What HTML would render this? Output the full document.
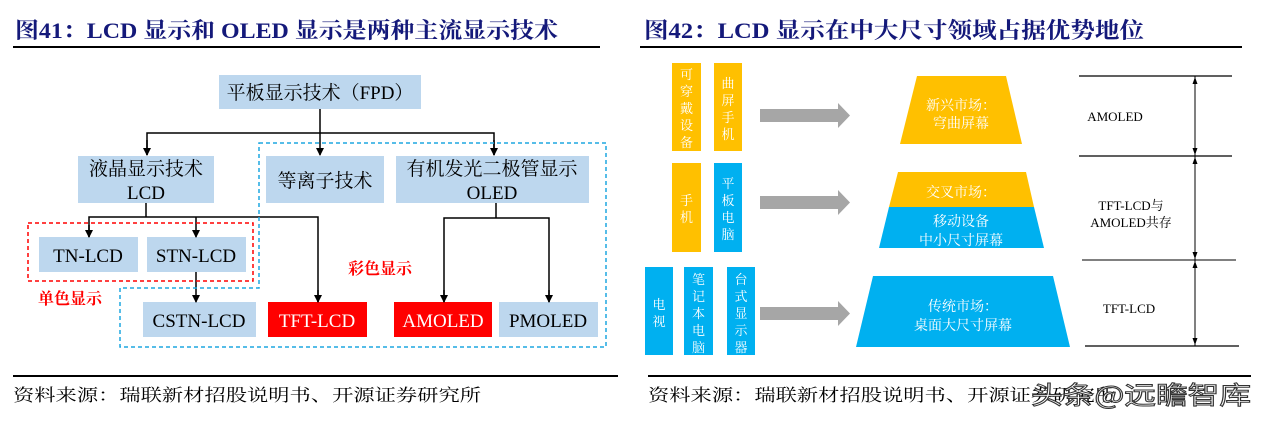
<!DOCTYPE html>
<html><head><meta charset="utf-8"><style>
html,body{margin:0;padding:0;background:#fff;}
svg{display:block;}
.t{font-family:"Liberation Serif","Noto Serif CJK SC",serif;}
</style></head><body>
<svg width="1263" height="421" viewBox="0 0 1263 421" xmlns="http://www.w3.org/2000/svg">
<defs>
<marker id="ar" markerWidth="8" markerHeight="8" refX="7" refY="4" orient="auto" markerUnits="userSpaceOnUse">
<path d="M0,0 L8,4 L0,8 Z" fill="#000"/></marker>
</defs>
<!-- titles -->
<text class="t" x="15" y="38" font-size="22" font-weight="bold" fill="#14197A" textLength="543" lengthAdjust="spacingAndGlyphs">图41：LCD 显示和 OLED 显示是两种主流显示技术</text>
<line x1="13" y1="47" x2="600" y2="47" stroke="#000" stroke-width="2"/>
<text class="t" x="644" y="38" font-size="22" font-weight="bold" fill="#14197A" textLength="500" lengthAdjust="spacingAndGlyphs">图42：LCD 显示在中大尺寸领域占据优势地位</text>
<line x1="640" y1="47" x2="1242" y2="47" stroke="#000" stroke-width="2"/>

<!-- LEFT DIAGRAM -->
<g class="t" font-size="19" text-anchor="middle">
<rect x="219" y="75" width="202" height="34" fill="#BDD7EE"/>
<text x="320" y="99">平板显示技术（FPD）</text>
<rect x="78" y="156" width="136" height="47" fill="#BDD7EE"/>
<text x="146" y="175">液晶显示技术</text>
<text x="146" y="199">LCD</text>
<rect x="266" y="156" width="118" height="47" fill="#BDD7EE"/>
<text x="325" y="187">等离子技术</text>
<rect x="396" y="156" width="193" height="47" fill="#BDD7EE"/>
<text x="492" y="175">有机发光二极管显示</text>
<text x="492" y="199">OLED</text>
<rect x="39" y="237" width="99" height="35" fill="#BDD7EE"/>
<text x="88" y="262">TN-LCD</text>
<rect x="147" y="237" width="99" height="35" fill="#BDD7EE"/>
<text x="196" y="262">STN-LCD</text>
<rect x="143" y="302" width="113" height="35" fill="#BDD7EE"/>
<text x="199" y="327">CSTN-LCD</text>
<rect x="268" y="302" width="99" height="35" fill="#FF0000"/>
<text x="317" y="327" fill="#fff">TFT-LCD</text>
<rect x="394" y="302" width="98" height="35" fill="#FF0000"/>
<text x="443" y="327" fill="#fff">AMOLED</text>
<rect x="499" y="302" width="99" height="35" fill="#BDD7EE"/>
<text x="548" y="327" fill="#000">PMOLED</text>
</g>
<g stroke="#000" stroke-width="1.5" fill="none">
<line x1="320" y1="109" x2="320" y2="155" marker-end="url(#ar)"/>
<polyline points="147,155 147,133 494,133 494,155" />
<line x1="147" y1="140" x2="147" y2="155" marker-end="url(#ar)"/>
<line x1="494" y1="140" x2="494" y2="155" marker-end="url(#ar)"/>
<line x1="146" y1="203" x2="146" y2="217"/>
<polyline points="89,237 89,217 318,217 318,302"/>
<line x1="89" y1="225" x2="89" y2="237" marker-end="url(#ar)"/>
<line x1="196" y1="217" x2="196" y2="237" marker-end="url(#ar)"/>
<line x1="318" y1="290" x2="318" y2="302" marker-end="url(#ar)"/>
<line x1="196" y1="272" x2="196" y2="302" marker-end="url(#ar)"/>
<line x1="496" y1="203" x2="496" y2="218"/>
<polyline points="444,302 444,218 549,218 549,302"/>
<line x1="444" y1="290" x2="444" y2="302" marker-end="url(#ar)"/>
<line x1="549" y1="290" x2="549" y2="302" marker-end="url(#ar)"/>
</g>
<polygon points="259,143 606,143 606,347 120,347 120,288 259,288" fill="none" stroke="#1EA7E1" stroke-width="1.5" stroke-dasharray="4,3"/>
<rect x="28" y="223" width="225" height="58" fill="none" stroke="#FF0000" stroke-width="1.5" stroke-dasharray="4,3"/>
<text class="t" x="348" y="274" font-size="16" font-weight="bold" fill="#FF0000">彩色显示</text>
<text class="t" x="38" y="304" font-size="16" font-weight="bold" fill="#FF0000">单色显示</text>

<!-- RIGHT DIAGRAM -->
<g class="t" font-size="13" fill="#fff" text-anchor="middle">
<rect x="672" y="63" width="29" height="88" fill="#FFC000"/>
<text x="686.5" y="79">可</text><text x="686.5" y="96">穿</text><text x="686.5" y="113">戴</text><text x="686.5" y="130">设</text><text x="686.5" y="147">备</text>
<rect x="714" y="63" width="28" height="88" fill="#FFC000"/>
<text x="728" y="88">曲</text><text x="728" y="105">屏</text><text x="728" y="122">手</text><text x="728" y="139">机</text>
<rect x="672" y="163" width="29" height="89" fill="#FFC000"/>
<text x="686.5" y="205">手</text><text x="686.5" y="222">机</text>
<rect x="714" y="163" width="28" height="89" fill="#00B0F0"/>
<text x="728" y="188">平</text><text x="728" y="205">板</text><text x="728" y="222">电</text><text x="728" y="239">脑</text>
<rect x="645" y="267" width="28" height="88" fill="#00B0F0"/>
<text x="659" y="309">电</text><text x="659" y="326">视</text>
<rect x="684" y="267" width="29" height="88" fill="#00B0F0"/>
<text x="698.5" y="284">笔</text><text x="698.5" y="301">记</text><text x="698.5" y="318">本</text><text x="698.5" y="335">电</text><text x="698.5" y="352">脑</text>
<rect x="727" y="267" width="28" height="88" fill="#00B0F0"/>
<text x="741" y="284">台</text><text x="741" y="301">式</text><text x="741" y="318">显</text><text x="741" y="335">示</text><text x="741" y="352">器</text>
</g>
<g fill="#A6A6A6">
<polygon points="760,109 838,109 838,103 850,115.5 838,128 838,122 760,122"/>
<polygon points="760,196 838,196 838,190 850,202.5 838,215 838,209 760,209"/>
<polygon points="760,307 838,307 838,301 850,313.5 838,326 838,320 760,320"/>
</g>
<polygon points="917,76 1006,76 1022,144 900,144" fill="#FFC000"/>
<polygon points="898,172 1026,172 1034,207 889,207" fill="#FFC000"/>
<polygon points="889,207 1034,207 1044,248 879,248" fill="#00B0F0"/>
<polygon points="873,276 1053,276 1070,347 856,347" fill="#00B0F0"/>
<g class="t" font-size="14" fill="#fff" text-anchor="middle">
<text x="961" y="110">新兴市场：</text>
<text x="961" y="128">穹曲屏幕</text>
<text x="961" y="197">交叉市场：</text>
<text x="961" y="226">移动设备</text>
<text x="961" y="245">中小尺寸屏幕</text>
<text x="963" y="311">传统市场：</text>
<text x="963" y="330">桌面大尺寸屏幕</text>
</g>
<g stroke="#000" stroke-width="1.2">
<line x1="1079" y1="76" x2="1232" y2="76"/>
<line x1="1079" y1="156" x2="1232" y2="156"/>
<line x1="1082" y1="260" x2="1236" y2="260" stroke="#808080" stroke-width="2"/>
<line x1="1085" y1="346" x2="1239" y2="346"/>
<line x1="1195" y1="76" x2="1195" y2="346" stroke-width="1"/>
</g>
<g fill="#000">
<polygon points="1195,77 1192.5,84 1197.5,84"/><polygon points="1195,155 1192.5,148 1197.5,148"/>
<polygon points="1195,157 1192.5,164 1197.5,164"/><polygon points="1195,259 1192.5,252 1197.5,252"/>
<polygon points="1195,261 1192.5,268 1197.5,268"/><polygon points="1195,345 1192.5,338 1197.5,338"/>
</g>
<g class="t" font-size="13" fill="#000" text-anchor="middle">
<text x="1115" y="121">AMOLED</text>
<text x="1131" y="210">TFT-LCD与</text>
<text x="1131" y="227">AMOLED共存</text>
<text x="1129" y="313">TFT-LCD</text>
</g>

<!-- footer -->
<line x1="13" y1="376" x2="618" y2="376" stroke="#000" stroke-width="2"/>
<line x1="648" y1="376" x2="1251" y2="376" stroke="#000" stroke-width="2"/>
<text class="t" x="13" y="401" font-size="17" fill="#000" textLength="468" lengthAdjust="spacingAndGlyphs">资料来源：瑞联新材招股说明书、开源证券研究所</text>
<text class="t" x="648" y="401" font-size="17" fill="#000" textLength="468" lengthAdjust="spacingAndGlyphs">资料来源：瑞联新材招股说明书、开源证券研究所</text>
<text x="1031" y="404" font-family="'Noto Sans CJK SC',sans-serif" font-size="25" fill="#fff" stroke="#333" stroke-width="1" textLength="220" lengthAdjust="spacingAndGlyphs">头条@远瞻智库</text>
</svg>
</body></html>
